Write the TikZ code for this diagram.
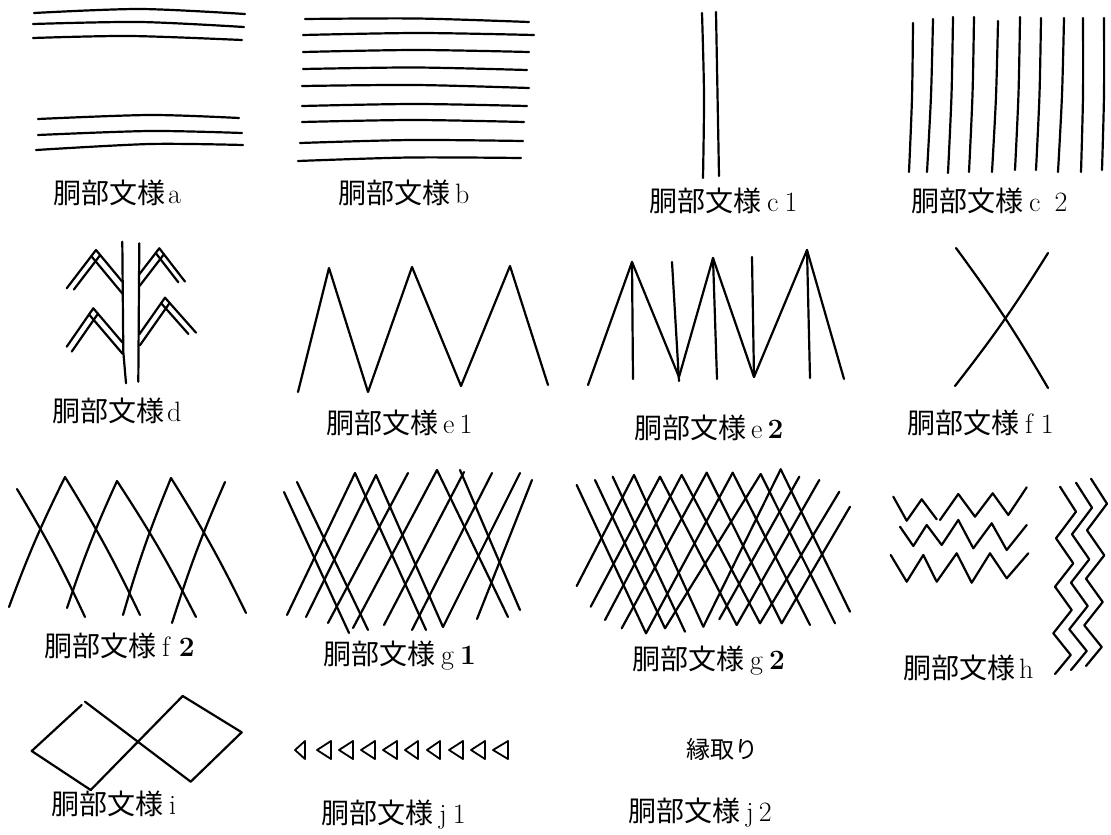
\documentclass[tikz,border=0pt]{standalone}
\usepackage{fontspec}
\newfontfamily\cjk{Noto Sans CJK JP}
\usetikzlibrary{calc}
\tikzset{
  ln/.style={line width=2.2pt, line cap=round, line join=round},
  lab/.style={anchor=base west, inner sep=0pt, font=\fontsize{28}{32}\selectfont},
}
\newcommand\dchev[6]{%
  \draw[ln] ($(#1)+#2$) -- (#1) -- ($(#1)+#3$);
  \draw[ln] ($(#1)+#4*#2$) -- ($(#1)+#4*#2+#5*#3$);
  \draw[ln] ($(#1)+#4*#3$) -- ($(#1)+#4*#3+#6*#2$);
}
\newcommand\dobu{{\cjk 胴部文様}}
\begin{document}
\begin{tikzpicture}[x=1pt,y=-1pt]
\useasboundingbox[fill=white] (0,0) rectangle (1111,835);

% ---- a
\draw[ln] plot[smooth] coordinates {(34,13) (140,9) (245,14)};
\draw[ln] plot[smooth] coordinates {(33,24) (140,22) (244,27)};
\draw[ln] plot[smooth] coordinates {(33,38) (130,36) (242,40)};
\draw[ln] plot[smooth] coordinates {(38,119) (150,115) (239,118)};
\draw[ln] plot[smooth] coordinates {(38,135) (150,131) (242,133)};
\draw[ln] plot[smooth] coordinates {(36,150) (150,144) (243,145)};
\node[lab] (la) at (53,203) {\dobu\hspace{3pt}a};

% ---- b
\foreach \xa/\ya/\xb/\yb in {305/19/529/22, 303/35/534/35, 303/52/529/52, 303/69/527/70, 302/86/529/88, 302/106/527/106, 302/122/524/122, 300/143/523/141, 298/161/521/158}
  \draw[ln] plot[smooth] coordinates {(\xa,\ya) ({(\xa+\xb)/2},{(\ya+\yb)/2-2}) (\xb,\yb)};
\node[lab] (lb) at (338,203) {\dobu\hspace{5pt}b};

% ---- c1
\draw[ln] plot[smooth] coordinates {(702,13) (704,95) (703,178)};
\draw[ln] (716,12) -- (719,176);
\node[lab] (lc1) at (649,211) {\dobu\hspace{6pt}c\hspace{6pt}1};

% ---- c2
\foreach \xt/\yt/\xb/\yb in {913/23/909/172, 933/19/927/172, 953/17/948/173, 974/17/969/172, 998/21/992/172, 1020/17/1015/170, 1041/18/1036/170, 1064/18/1058/172, 1083/18/1081/172, 1104/18/1102/170}
  \draw[ln] plot[smooth] coordinates {(\xt,\yt) ({(\xt+\xb)/2+1},{(\yt+\yb)/2}) (\xb,\yb)};
\node[lab] (lc2) at (911,211) {\dobu\hspace{6pt}c\hspace{14pt}2};

% ---- d
\draw[ln] (122.3,241.7) -- (123.3,351.7) -- (126,383.3);
\draw[ln] (139.3,243.3) -- (138.3,381.7);
\dchev{96,250}{(-29.3,38.3)}{(26.3,31.7)}{0.16}{1.19}{0.9}
\dchev{93.3,308.3}{(-26.6,38.4)}{(29,34)}{0.16}{1.16}{0.985}
\dchev{159.3,248.3}{(-20,26)}{(25.7,33.3)}{0.18}{0.88}{1.22}
\dchev{165,297.7}{(-25.7,36.6)}{(31,35)}{0.15}{0.88}{1.155}
\node[lab] (ld) at (52,421) {\dobu\hspace{3pt}d};

% ---- e1
\draw[ln] (298,392) -- (329,268) -- (368,392) -- (412,267) -- (461,386) -- (510,266) -- (548,385);
\node[lab] (le1) at (326,433) {\dobu\hspace{5pt}e\hspace{5pt}1};

% ---- e2
\draw[ln] (588,385) -- (632,262) -- (679,377) -- (713,258) -- (754,377) -- (807,250) -- (844,379);
\draw[ln] (632,262) -- (633,379);
\draw[ln] (672,262) -- (679,381);
\draw[ln] (713,258) -- (717,379);
\draw[ln] (752,257) -- (754,377);
\draw[ln] (807,250) -- (810,378);
\node[lab] (le2) at (634,438) {\dobu\hspace{5pt}e\hspace{5pt}\textbf{2}};

% ---- f1
\draw[ln] (956,248) to[bend left=3] (1048,388);
\draw[ln] (1048,253) to[bend left=3] (955,386);
\node[lab] (lf1) at (907,433) {\dobu\hspace{6pt}f\hspace{8pt}1};

% ---- f2
\draw[ln] (17,489) to[bend left=3] (85,617);
\draw[ln] (9,607) to[bend left=3] (65,477) to[bend left=3] (140,615);
\draw[ln] (67,608) to[bend left=3] (117,481) to[bend left=3] (196,617);
\draw[ln] (123,615) to[bend left=3] (171,478) to[bend left=3] (246,613);
\draw[ln] (225,482) to[bend right=3] (172,623);
\node[lab] (lf2) at (44,656) {\dobu\hspace{6pt}f\hspace{8pt}\textbf{2}};

% ---- g1
\foreach \xa/\ya/\xb/\yb in {287/615/355/473, 306/617/376/475, 328/623/408/473, 353/628/437/470, 384/625/464/472, 412/630/492/473, 443/627/520/473, 477/619/532/480,
  284/492/349/633, 297/482/368/630, 355/473/426/630, 376/475/443/627, 437/470/508/617, 460/470/520/610}
  \draw[ln] (\xa,\ya) -- (\xb,\yb);
\node[lab] (lg1) at (323,664) {\dobu\hspace{6pt}g\hspace{6pt}\textbf{1}};

% ---- g2
\foreach \xa/\ya/\xb/\yb in {576.7/485/646/633.3, 595/480/665/628.3, 612.7/476.7/685/631.7, 634/475/703.3/626.7, 660/476.7/736.7/625, 681.7/475/760/623.3, 706.7/472.7/781.7/623.3, 732.7/472.7/810/625, 760.7/474/835/623.3, 780.7/469.3/850/611.7,
  576.7/586/634/475, 590.7/606.7/660/476.7, 605/620/681.7/475, 621.7/628.3/706.7/472.7, 646/633.3/732.7/472.7, 665/628.3/760.7/474, 703.3/626.7/780.7/469.3, 719.3/619.3/799.3/476.7, 736.7/625/819.3/480, 760/623.3/839.3/491.7, 781.7/623.3/850/506.7}
  \draw[ln] (\xa,\ya) -- (\xb,\yb);
\node[lab] (lg2) at (632,669) {\dobu\hspace{6pt}g\hspace{6pt}\textbf{2}};

% ---- h
\draw[ln] (893.3,496.7) -- (906.7,520.7) -- (921.7,499.3) -- (936.7,519.3);
\draw[ln] (940,520) -- (958.3,494) -- (975,516.7) -- (992.7,493.3) -- (1008.3,515) -- (1026.7,487.3);
\draw[ln] (900,526.7) -- (913.3,546) -- (926.7,525) -- (941.7,545) -- (958.3,520) -- (973.3,548.3) -- (991.7,523.3) -- (1006.7,550) -- (1026.7,525);
\draw[ln] (890.7,555) -- (906.7,581.7) -- (923.3,555) -- (936.7,581.7) -- (956.7,553.3) -- (971.7,582.7) -- (990,553.3) -- (1006.7,578.3) -- (1028.3,553.3);
\foreach \dx/\dy in {0/0, 16/-4, 31/-8}
  \draw[ln, shift={(\dx,\dy)}] (1060,486.7) -- (1076,511.7) -- (1056,538.3) -- (1073.3,563.3) -- (1055,586.7) -- (1071.7,610) -- (1053.3,633.3) -- (1070.7,655) -- (1055,674);
\node[lab] (lh) at (903,678) {\dobu\hspace{4pt}h};

% ---- i
\draw[ln] (85,701.7) -- (190.7,781.7);
\draw[ln] (90.7,790) -- (182.7,696);
\draw[ln] (81.7,705) -- (31.7,751) -- (90.7,790);
\draw[ln] (182.7,696) -- (241.7,732.3) -- (190.7,781.7);
\node[lab] (li) at (51,814) {\dobu\hspace{6pt}i};

% ---- j1
\foreach \i/\w in {0/10,1/14,2/14,3/14,4/14,5/13,6/13,7/14,8/14,9/15}
  \draw[ln, line width=1.8pt] ({295+22*\i},750) -- ++(\w,-9) -- ++(0,18) -- cycle;
\node[lab] (lj1) at (321,823) {\dobu\hspace{6pt}j\hspace{6pt}1};

% ---- j2
\node[lab, font=\fontsize{24}{28}\selectfont\cjk] (fuchi) at (686,758) {縁取り};
\node[lab] (lj2) at (628,821) {\dobu\hspace{6pt}j\hspace{5pt}2};
\end{tikzpicture}
\end{document}
